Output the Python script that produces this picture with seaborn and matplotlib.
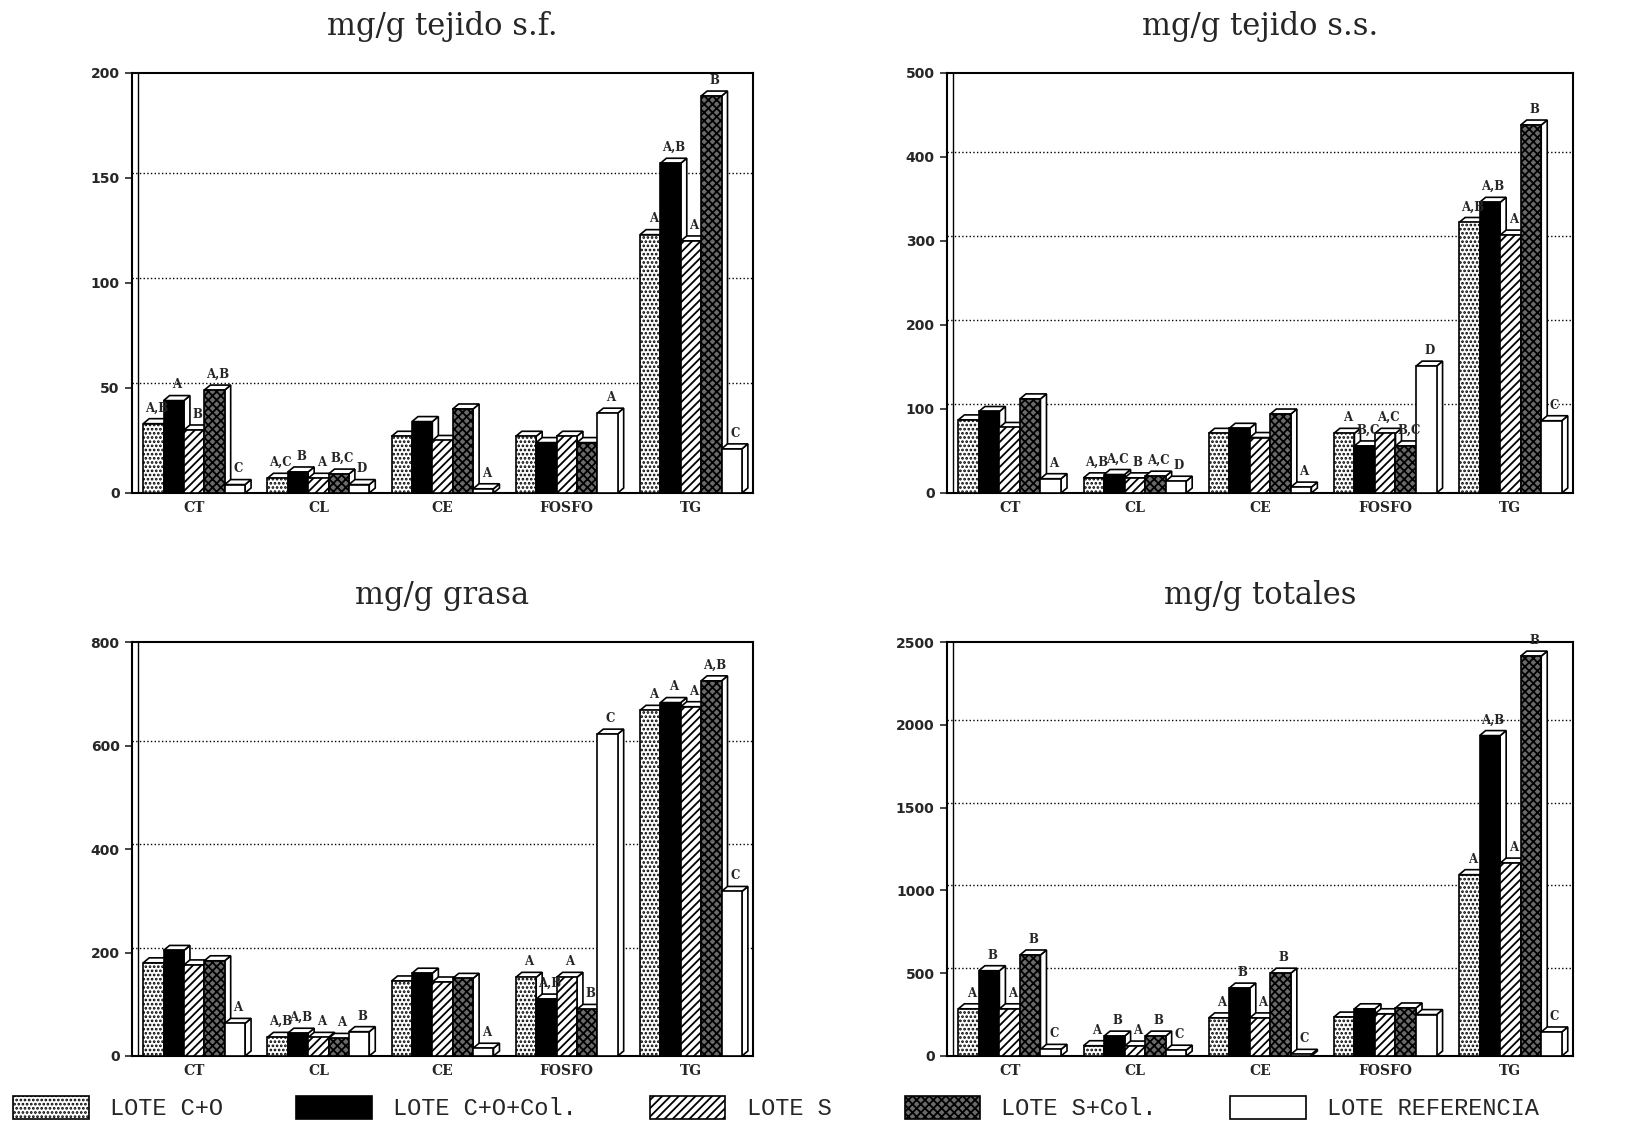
import pandas as pd
import seaborn as sns
import matplotlib.pyplot as plt
from matplotlib.patches import Polygon, Patch

# categories and series
groups = ["CT", "CL", "CE", "FOSFO", "TG"]
series = ["LOTE C+O", "LOTE C+O+Col.", "LOTE S", "LOTE S+Col.", "LOTE REFERENCIA"]

# mg/g tejido s.f.
sf_co = [33, 7, 27, 27, 123]
sf_co_col = [44, 10, 34, 24, 157]
sf_s = [30, 7, 25, 27, 120]
sf_s_col = [49, 9, 40, 24, 189]
sf_ref = [4, 4, 2, 38, 21]
sf_letters = [["A,B", "A,C", "", "", "A"],
              ["A", "B", "", "", "A,B"],
              ["B", "A", "", "", "A"],
              ["A,B", "B,C", "", "", "B"],
              ["C", "D", "A", "A", "C"]]

# mg/g tejido s.s.
ss_co = [87, 18, 71, 71, 322]
ss_co_col = [97, 22, 77, 56, 346]
ss_s = [78, 18, 66, 71, 307]
ss_s_col = [112, 20, 94, 56, 438]
ss_ref = [17, 14, 7, 151, 86]
ss_letters = [["", "A,B", "", "A", "A,B"],
              ["", "A,C", "", "B,C", "A,B"],
              ["", "B", "", "A,C", "A"],
              ["", "A,C", "", "B,C", "B"],
              ["A", "D", "A", "D", "C"]]

# mg/g grasa
gr_co = [180, 36, 145, 152, 668]
gr_co_col = [204, 44, 160, 110, 683]
gr_s = [176, 36, 143, 152, 675]
gr_s_col = [184, 34, 150, 90, 725]
gr_ref = [63, 47, 15, 622, 318]
gr_letters = [["", "A,B", "", "A", "A"],
              ["", "A,B", "", "A,B", "A"],
              ["", "A", "", "A", "A"],
              ["", "A", "", "B", "A,B"],
              ["A", "B", "A", "C", "C"]]

# mg/g totales
to_co = [285, 62, 230, 235, 1095]
to_co_col = [515, 120, 410, 285, 1935]
to_s = [285, 60, 230, 255, 1165]
to_s_col = [610, 120, 500, 290, 2415]
to_ref = [40, 35, 10, 250, 145]
to_letters = [["A", "A", "A", "", "A"],
              ["B", "B", "B", "", "A,B"],
              ["A", "A", "A", "", "A"],
              ["B", "B", "B", "", "B"],
              ["C", "C", "C", "", "C"]]

panels = [
    ("mg/g tejido s.f.", [sf_co, sf_co_col, sf_s, sf_s_col, sf_ref], sf_letters, 200, 50),
    ("mg/g tejido s.s.", [ss_co, ss_co_col, ss_s, ss_s_col, ss_ref], ss_letters, 500, 100),
    ("mg/g grasa", [gr_co, gr_co_col, gr_s, gr_s_col, gr_ref], gr_letters, 800, 200),
    ("mg/g totales", [to_co, to_co_col, to_s, to_s_col, to_ref], to_letters, 2500, 500),
]

faces = ["white", "black", "white", "#6a6a6a", "white"]
hatches = ["....", None, "////", "xxxx", None]

positions = [
    [0.0807, 0.5614, 0.3796, 0.3737],
    [0.5789, 0.5614, 0.3826, 0.3737],
    [0.0807, 0.0605, 0.3796, 0.3683],
    [0.5789, 0.0605, 0.3826, 0.3683],
]

sns.set_style("white")
plt.rcParams["hatch.linewidth"] = 1.3

fig = plt.figure(figsize=(16.36, 11.24), dpi=100)

for (title, vals, letters, ymax, step), pos in zip(panels, positions):
    ax = fig.add_axes(pos)
    rows = []
    for s, v in zip(series, vals):
        for g, y in zip(groups, v):
            rows.append({"grupo": g, "lote": s, "valor": y})
    df = pd.DataFrame(rows)

    sns.barplot(data=df, x="grupo", y="valor", hue="lote", order=groups,
                hue_order=series, palette=faces, width=0.82, gap=0,
                edgecolor="black", linewidth=1.2, saturation=1,
                legend=False, ax=ax, errorbar=None)

    ax.set_xlim(-0.5, 4.5)
    ax.set_ylim(0, ymax)

    # depth of the pseudo 3d bars, in data units
    dx = 6 * 5.0 / ax.bbox.width
    dy = 5 * ymax / ax.bbox.height

    for i, cont in enumerate(ax.containers):
        for j, bar in enumerate(cont.patches):
            bar.set_hatch(hatches[i])
            bar.set_zorder(3 + 0.1 * i + 0.05)
            x, w, h = bar.get_x(), bar.get_width(), bar.get_height()
            side = Polygon([(x + w, 0), (x + w + dx, dy), (x + w + dx, h + dy), (x + w, h)],
                           closed=True, facecolor="white", edgecolor="black", lw=1.2,
                           zorder=3 + 0.1 * i)
            top = Polygon([(x, h), (x + dx, h + dy), (x + w + dx, h + dy), (x + w, h)],
                          closed=True, facecolor="white", edgecolor="black", lw=1.2,
                          zorder=3 + 0.1 * i)
            ax.add_patch(side)
            ax.add_patch(top)
            if letters[i][j]:
                ax.annotate(letters[i][j], (x + w / 2 + dx / 2, h + dy), xytext=(0, 3),
                            textcoords="offset points", ha="center", va="bottom",
                            fontsize=8.5, fontweight="bold", family="DejaVu Serif",
                            zorder=10, annotation_clip=False)

    # back wall grid lines
    for t in range(step, ymax, step):
        ax.axhline(t + dy, color="black", ls=":", lw=1.0, zorder=1)
    ax.axvline(-0.5 + dx, color="black", lw=1.0, zorder=1)

    ax.set_yticks(range(0, ymax + 1, step))
    ax.set_yticklabels([str(t) for t in range(0, ymax + 1, step)],
                       fontsize=10, fontweight="bold")
    ax.set_xticks(range(len(groups)))
    ax.set_xticklabels(groups, fontsize=10, fontweight="bold", family="DejaVu Serif")
    ax.tick_params(axis="y", direction="out", length=5, width=1.2, left=True, pad=4)
    ax.tick_params(axis="x", length=0, pad=6)
    ax.set_xlabel("")
    ax.set_ylabel("")
    for sp in ax.spines.values():
        sp.set_visible(True)
        sp.set_color("black")
        sp.set_linewidth(1.5)

    fig.text(pos[0] + pos[2] / 2, pos[1] + pos[3] + 0.041, title,
             ha="center", va="center", fontsize=22, family="DejaVu Serif")

handles = [Patch(facecolor=f, edgecolor="black", hatch=h, lw=1.2) for f, h in zip(faces, hatches)]
fig.legend(handles, series, loc="center left", bbox_to_anchor=(-0.002, 0.0142), ncol=5,
           frameon=False, handlelength=3.2, handleheight=1.1, handletextpad=0.9,
           columnspacing=3.1, borderpad=0.2, prop={"family": "Liberation Mono", "size": 17})

fig.savefig("out.png", dpi=100)
